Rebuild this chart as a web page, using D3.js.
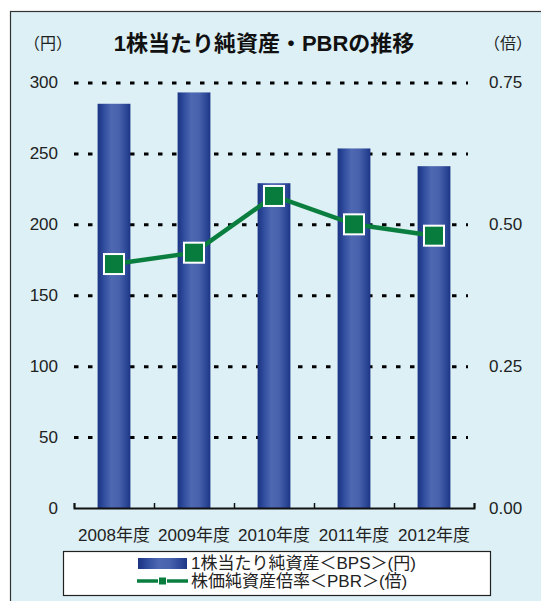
<!DOCTYPE html>
<html>
<head>
<meta charset="utf-8">
<script src="https://cdn.jsdelivr.net/npm/d3@7"></script>
<style>
  body { margin: 0; background: #fff; }
  svg { display: block; font-family: "Liberation Sans", Arial, "Noto Sans CJK JP", sans-serif; }
  .jp { font-family: "Liberation Sans", "Noto Sans CJK JP", sans-serif; }
  .axis text { fill: #222; font-size: 17px; }
</style>
</head>
<body>
<div id="chart"></div>
<script>
// Fiscal years on the x axis
var years = ["2008年度", "2009年度", "2010年度", "2011年度", "2012年度"];

// Book value per share (yen), left axis
var bps = [285, 293, 229, 253.5, 241];

// Price book-value ratio (times), right axis
var pbr = [0.43, 0.45, 0.55, 0.50, 0.48];

// Tick values of both axes
var bpsTicks = [0, 50, 100, 150, 200, 250, 300];
var pbrTicks = [0, 0.25, 0.50, 0.75];

function bps_pbr_chart() {

  var svg = d3.select("#chart").append("svg")
      .attr("width", 541)
      .attr("height", 601);

  // Bars use a horizontal gradient, darker at the edges
  var grad = svg.append("defs").append("linearGradient")
      .attr("id", "barGrad")
      .attr("x1", 0).attr("x2", 1).attr("y1", 0).attr("y2", 0);
  [["0%", "#1b3382"], ["18%", "#2f4b9c"], ["42%", "#4e68b2"], ["65%", "#4862ad"], ["88%", "#2d4797"], ["100%", "#1c3585"]]
    .forEach(function(s) { grad.append("stop").attr("offset", s[0]).attr("stop-color", s[1]); });

  // Light blue panel with a thin frame
  svg.append("rect")
      .attr("x", 10.5).attr("y", 11.5)
      .attr("width", 600).attr("height", 600)
      .attr("fill", "#dcf0f5")
      .attr("stroke", "#333")
      .attr("stroke-width", 1.2);

  // Scales
  var x = d3.scaleBand()
      .domain(years)
      .range([74, 474])
      .paddingInner(0.59)
      .paddingOuter(0.295);

  var y = d3.scaleLinear()
      .domain([0, 300])
      .range([508, 82.5]);

  var y2 = d3.scaleLinear()
      .domain([0, 0.75])
      .range([508, 82.5]);

  // Left axis with dotted gridlines
  var gy = svg.append("g")
      .attr("class", "axis")
      .attr("transform", "translate(74,0)")
      .call(d3.axisLeft(y)
          .tickValues(bpsTicks)
          .tickSize(-394)
          .tickPadding(16));
  gy.select(".domain").remove();
  gy.selectAll(".tick line")
      .attr("stroke", "#000")
      .attr("stroke-width", 3)
      .attr("stroke-dasharray", "4.5,9.5")
      .filter(function(d) { return d === 0; }).remove();

  // Right axis, labels only
  var gy2 = svg.append("g")
      .attr("class", "axis")
      .attr("transform", "translate(489,0)")
      .call(d3.axisRight(y2)
          .tickValues(pbrTicks)
          .tickFormat(d3.format(".2f"))
          .tickSize(0)
          .tickPadding(0));
  gy2.select(".domain").remove();

  // Bars
  svg.append("g").selectAll("rect")
      .data(bps)
      .join("rect")
      .attr("x", function(d, i) { return x(years[i]); })
      .attr("y", function(d) { return y(d); })
      .attr("width", x.bandwidth())
      .attr("height", function(d) { return y(0) - y(d); })
      .attr("fill", "url(#barGrad)");

  // Base line with small upward ticks between categories
  var edge = d3.scaleLinear().domain([0, years.length]).range([74, 474]);
  var gb = svg.append("g")
      .attr("transform", "translate(0,508)")
      .call(d3.axisBottom(edge)
          .ticks(years.length)
          .tickSizeInner(-5)
          .tickSizeOuter(-5)
          .tickFormat(""));
  gb.select(".domain").attr("stroke", "#111").attr("stroke-width", 2);
  gb.selectAll(".tick line").attr("stroke", "#111").attr("stroke-width", 1.5);

  // Category labels
  var gx = svg.append("g")
      .attr("class", "axis jp")
      .attr("transform", "translate(0,508)")
      .call(d3.axisBottom(x).tickSize(0).tickPadding(21));
  gx.select(".domain").remove();

  // PBR line and square markers
  var cx = function(i) { return x(years[i]) + x.bandwidth() / 2; };
  var line = d3.line()
      .x(function(d, i) { return cx(i); })
      .y(function(d) { return y2(d); });

  svg.append("path")
      .datum(pbr)
      .attr("d", line)
      .attr("fill", "none")
      .attr("stroke", "#0a7e3e")
      .attr("stroke-width", 4.5);

  svg.append("g").selectAll("rect")
      .data(pbr)
      .join("rect")
      .attr("x", function(d, i) { return cx(i) - 10; })
      .attr("y", function(d) { return y2(d) - 10; })
      .attr("width", 20)
      .attr("height", 20)
      .attr("fill", "#077c3d")
      .attr("stroke", "#fff")
      .attr("stroke-width", 2);

  // Titles and axis units
  svg.append("text")
      .attr("class", "jp")
      .attr("x", 264).attr("y", 51)
      .attr("text-anchor", "middle")
      .attr("font-size", 22)
      .attr("font-weight", "bold")
      .attr("fill", "#111")
      .text("1株当たり純資産・PBRの推移");

  svg.append("text")
      .attr("class", "jp")
      .attr("x", 24).attr("y", 49)
      .attr("font-size", 16)
      .attr("fill", "#222")
      .text("（円）");

  svg.append("text")
      .attr("class", "jp")
      .attr("x", 484).attr("y", 49)
      .attr("font-size", 16)
      .attr("fill", "#222")
      .text("（倍）");

  // Legend
  var lg = svg.append("g");
  lg.append("rect")
      .attr("x", 63.5).attr("y", 551.5)
      .attr("width", 427).attr("height", 44)
      .attr("fill", "#fff")
      .attr("stroke", "#222")
      .attr("stroke-width", 1.2);

  lg.append("rect")
      .attr("x", 138).attr("y", 558)
      .attr("width", 49).attr("height", 11)
      .attr("fill", "url(#barGrad)");

  lg.append("line")
      .attr("x1", 137).attr("x2", 188)
      .attr("y1", 581).attr("y2", 581)
      .attr("stroke", "#0a7e3e")
      .attr("stroke-width", 3.5);
  lg.append("rect")
      .attr("x", 158.5).attr("y", 577)
      .attr("width", 8).attr("height", 8)
      .attr("fill", "#077c3d")
      .attr("stroke", "#fff")
      .attr("stroke-width", 1);

  lg.append("text")
      .attr("class", "jp")
      .attr("x", 191).attr("y", 569)
      .attr("font-size", 17)
      .attr("fill", "#222")
      .text("1株当たり純資産＜BPS＞(円)");

  lg.append("text")
      .attr("class", "jp")
      .attr("x", 191).attr("y", 587)
      .attr("font-size", 17)
      .attr("fill", "#222")
      .text("株価純資産倍率＜PBR＞(倍)");

}// End of bps_pbr_chart

bps_pbr_chart();
</script>
</body>
</html>
